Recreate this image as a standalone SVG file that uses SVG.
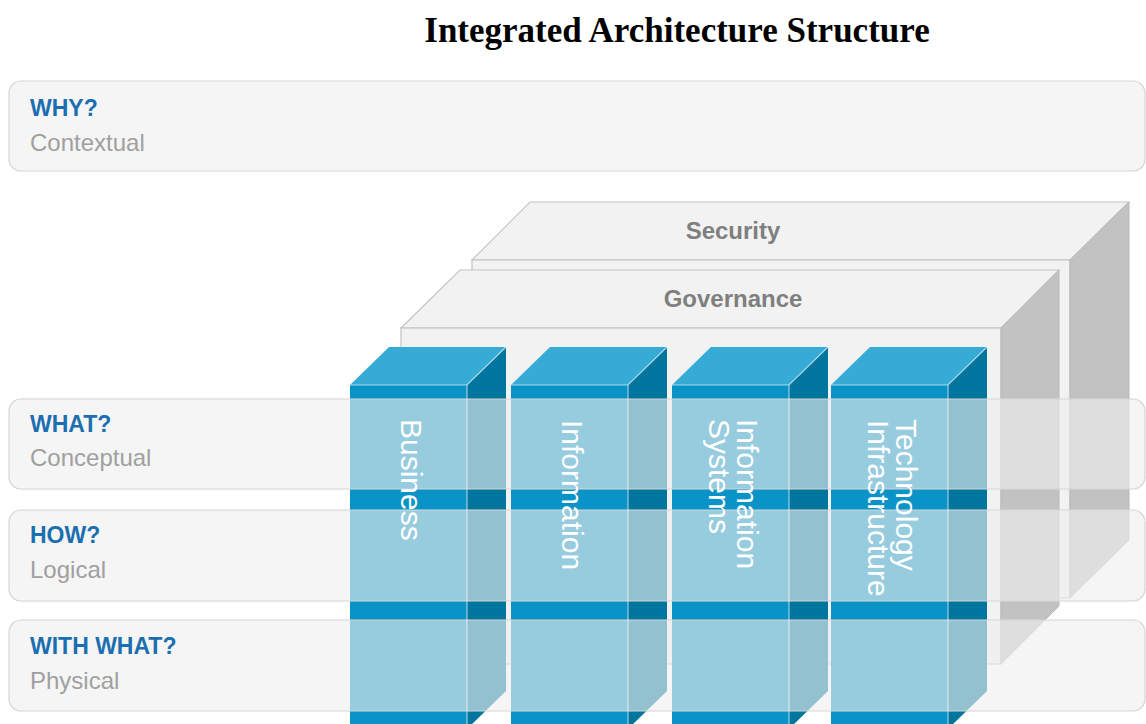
<svg xmlns="http://www.w3.org/2000/svg" width="1146" height="724" viewBox="0 0 1146 724">
  <style>
    .title { font-family: "Liberation Serif", "Times New Roman", serif; font-weight: bold; font-size: 35px; fill: #000; }
    .panel { fill: #efefef; fill-opacity: 0.62; stroke: #d6d6d6; stroke-width: 1.2; }
    .rowq { font-family: "Liberation Sans", Arial, sans-serif; font-weight: bold; font-size: 23px; fill: #1b6fb0; }
    .rows { font-family: "Liberation Sans", Arial, sans-serif; font-size: 24px; fill: #a0a0a0; }
    .boxface { fill: #f2f2f2; stroke: #c4c4c4; stroke-width: 1.2; }
    .boxside { fill: #c2c2c2; stroke: #b9b9b9; stroke-width: 1; }
    .boxlbl { font-family: "Liberation Sans", Arial, sans-serif; font-weight: bold; font-size: 24px; fill: #7f7f7f; text-anchor: middle; }
    .ctop { fill: #36abd5; }
    .cfront { fill: #0a93c6; }
    .cside { fill: #00769f; }
    .cedge { stroke: #ffffff; stroke-opacity: 0.6; stroke-width: 1.2; fill: none; }
    .clbl { font-family: "Liberation Sans", Arial, sans-serif; font-size: 30px; fill: #ffffff; }
  </style>
  <rect width="1146" height="724" fill="#ffffff"/>
  <text class="title" x="677" y="42" text-anchor="middle">Integrated Architecture Structure</text>

  <g id="row-why">
    <rect class="panel" x="9" y="81" width="1136" height="90" rx="12"/>
  </g>

  <g id="security">
    <polygon class="boxface" points="472,260 530,202 1129,202 1070,260"/>
    <rect class="boxface" x="472" y="260" width="598" height="338"/>
    <polygon class="boxside" points="1070,260 1129,202 1129,540 1070,598"/>
    <text class="boxlbl" x="733" y="239">Security</text>
  </g>

  <g id="governance">
    <polygon class="boxface" points="401,328 460,270 1059,270 1001,328"/>
    <rect class="boxface" x="401" y="328" width="600" height="336"/>
    <polygon class="boxside" points="1001,328 1059,270 1059,606 1001,664"/>
    <text class="boxlbl" x="733" y="307">Governance</text>
  </g>

  <g id="col-business">
    <polygon class="ctop" points="350,385 389,347 506,347 467,385"/>
    <rect class="cfront" x="350" y="385" width="117" height="344"/>
    <polygon class="cside" points="467,385 506,347 506,691 467,729"/>
  </g>
  <g id="col-information">
    <polygon class="ctop" points="511,385 550,347 667,347 628,385"/>
    <rect class="cfront" x="511" y="385" width="117" height="344"/>
    <polygon class="cside" points="628,385 667,347 667,691 628,729"/>
  </g>
  <g id="col-information-systems">
    <polygon class="ctop" points="672,385 711,347 828,347 789,385"/>
    <rect class="cfront" x="672" y="385" width="117" height="344"/>
    <polygon class="cside" points="789,385 828,347 828,691 789,729"/>
  </g>
  <g id="col-technology">
    <polygon class="ctop" points="831,385 870,347 987,347 948,385"/>
    <rect class="cfront" x="831" y="385" width="117" height="344"/>
    <polygon class="cside" points="948,385 987,347 987,691 948,729"/>
  </g>

  <g id="row-what">
    <rect class="panel" x="9" y="399" width="1136" height="90" rx="12"/>
  </g>
  <g id="row-how">
    <rect class="panel" x="9" y="510" width="1136" height="91" rx="12"/>
  </g>
  <g id="row-withwhat">
    <rect class="panel" x="9" y="620" width="1136" height="91" rx="12"/>
  </g>

  <g id="column-edges">
    <path class="cedge" d="M350,385 H467 L506,347 M467,385 V729"/>
    <path class="cedge" d="M511,385 H628 L667,347 M628,385 V729"/>
    <path class="cedge" d="M672,385 H789 L828,347 M789,385 V729"/>
    <path class="cedge" d="M831,385 H948 L987,347 M948,385 V729"/>
  </g>

  <g id="column-labels">
    <text class="clbl" transform="translate(401,419) rotate(90)">Business</text>
    <text class="clbl" transform="translate(562,420) rotate(90)">Information</text>
    <text class="clbl" transform="translate(737,419) rotate(90)">Information</text>
    <text class="clbl" transform="translate(709,419) rotate(90)">Systems</text>
    <text class="clbl" transform="translate(896,419) rotate(90)">Technology</text>
    <text class="clbl" transform="translate(868,420) rotate(90)">Infrastructure</text>
  </g>

  <g id="row-labels">
    <text class="rowq" x="30" y="116">WHY?</text>
    <text class="rows" x="30" y="151">Contextual</text>
    <text class="rowq" x="30" y="432">WHAT?</text>
    <text class="rows" x="30" y="466">Conceptual</text>
    <text class="rowq" x="30" y="543">HOW?</text>
    <text class="rows" x="30" y="578">Logical</text>
    <text class="rowq" x="30" y="654">WITH WHAT?</text>
    <text class="rows" x="30" y="689">Physical</text>
  </g>
</svg>
